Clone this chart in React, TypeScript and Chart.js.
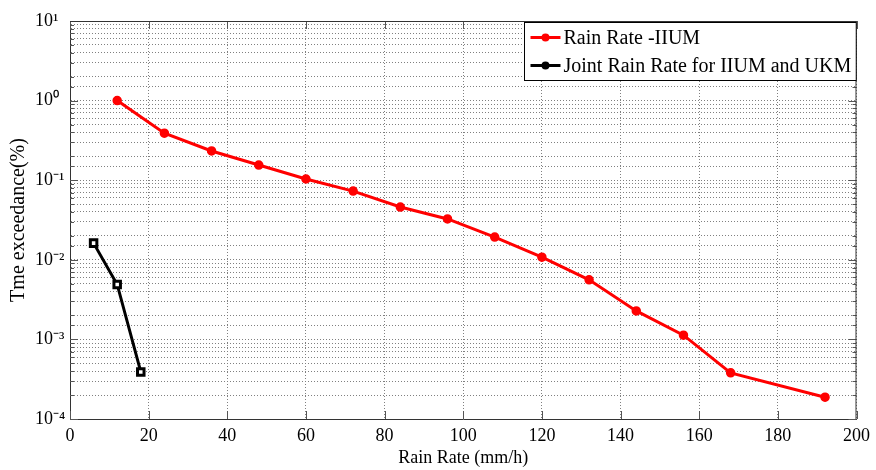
import React, { useEffect, useRef } from 'react';
import { Chart, registerables } from 'chart.js';
Chart.register(...registerables);

// ---- data ----
const iiumRate = [12, 24, 36, 48, 60, 72, 84, 96, 108, 120, 132, 144, 156, 168, 192];
const iiumExceed = [1.0, 0.39, 0.233, 0.155, 0.1035, 0.073, 0.046, 0.0326, 0.0193, 0.0108, 0.0056, 0.00228, 0.00113, 0.00038, 0.000188];
const jointRate = [6, 12, 18];
const jointExceed = [0.0162, 0.0049, 0.00039];
const seriesLabels = ['Rain Rate -IIUM', 'Joint Rain Rate for IIUM and UKM'];
const seriesColors = ['#ff0000', '#000000'];
const xTitle = 'Rain Rate (mm/h)';
const yTitle = 'Tme exceedance(%)';
const xMin = 0;
const xMax = 200;
const xStep = 20;
const yMinExp = -4;
const yMaxExp = 1;

const FONT = "'Liberation Serif', 'Times New Roman', serif";
const SUP: Record<string, string> = { '0': '⁰', '1': '¹', '2': '²', '3': '³', '4': '⁴', '5': '⁵', '-': '⁻' };
const sup = (n: number) => String(n).split('').map((c) => SUP[c] ?? c).join('');
const decadeOf = (v: number) => {
  const e = Math.round(Math.log10(v));
  return Math.abs(v - Math.pow(10, e)) / Math.pow(10, e) < 1e-6 ? e : null;
};

const framePlugin = {
  id: 'frameAndTicks',
  beforeDatasetsDraw(chart: any) {
    const { ctx, chartArea: a, scales } = chart;
    ctx.save();
    ctx.strokeStyle = '#555';
    ctx.lineWidth = 1;
    ctx.beginPath();
    scales.y.ticks.forEach((t: any) => {
      const py = Math.round(scales.y.getPixelForValue(t.value)) + 0.5;
      const len = decadeOf(t.value) !== null ? 8 : 4;
      ctx.moveTo(a.left, py); ctx.lineTo(a.left + len, py);
      ctx.moveTo(a.right, py); ctx.lineTo(a.right - len, py);
    });
    scales.x.ticks.forEach((t: any) => {
      const px = Math.round(scales.x.getPixelForValue(t.value)) + 0.5;
      ctx.moveTo(px, a.bottom); ctx.lineTo(px, a.bottom - 8);
      ctx.moveTo(px, a.top); ctx.lineTo(px, a.top + 8);
    });
    ctx.stroke();
    ctx.restore();
  },
  afterDraw(chart: any) {
    const { ctx, chartArea: a } = chart;
    ctx.save();
    ctx.strokeStyle = '#333';
    ctx.lineWidth = 1;
    ctx.beginPath();
    ctx.moveTo(a.left, a.top + 0.5); ctx.lineTo(a.right, a.top + 0.5);
    ctx.moveTo(a.right - 0.5, a.top); ctx.lineTo(a.right - 0.5, a.bottom);
    ctx.stroke();

    // legend
    ctx.font = `20px ${FONT}`;
    const textW = Math.max(...seriesLabels.map((s) => ctx.measureText(s).width));
    const boxW = 6 + 30 + 3 + textW + 5;
    const boxH = 58;
    const bx = Math.round(a.right - 1 - boxW) + 0.5;
    const by = Math.round(a.top + 1) + 0.5;
    ctx.fillStyle = '#fff';
    ctx.fillRect(bx, by, boxW, boxH);
    ctx.strokeStyle = '#000';
    ctx.strokeRect(bx, by, boxW, boxH);
    seriesLabels.forEach((lab, i) => {
      const cy = by + 15 + i * 28;
      const x0 = bx + 6;
      ctx.strokeStyle = seriesColors[i];
      ctx.lineWidth = 3;
      ctx.beginPath();
      ctx.moveTo(x0, cy); ctx.lineTo(x0 + 30, cy);
      ctx.stroke();
      ctx.fillStyle = seriesColors[i];
      ctx.beginPath();
      ctx.arc(x0 + 15, cy, 4, 0, Math.PI * 2);
      ctx.fill();
      ctx.fillStyle = '#000';
      ctx.textBaseline = 'middle';
      ctx.textAlign = 'left';
      ctx.fillText(lab, x0 + 33, cy + 1);
    });
    ctx.restore();
  },
};

export default function App() {
  const ref = useRef<HTMLCanvasElement>(null);
  useEffect(() => {
    if (!ref.current) return;
    const grid = {
      color: '#808080',
      lineWidth: 1,
      drawTicks: false,
    };
    const border = { display: true, color: '#333', width: 1, dash: [1, 2] };
    const chart = new Chart(ref.current, {
      type: 'line',
      data: {
        datasets: [
          {
            label: seriesLabels[0],
            data: iiumRate.map((x, i) => ({ x, y: iiumExceed[i] })),
            borderColor: seriesColors[0],
            backgroundColor: seriesColors[0],
            borderWidth: 3,
            pointRadius: 4,
            pointBorderWidth: 1.5,
            pointStyle: 'circle',
            tension: 0,
          },
          {
            label: seriesLabels[1],
            data: jointRate.map((x, i) => ({ x, y: jointExceed[i] })),
            borderColor: seriesColors[1],
            backgroundColor: '#ffffff',
            borderWidth: 3,
            pointRadius: 4.6,
            pointBorderWidth: 3,
            pointStyle: 'rect',
            tension: 0,
          },
        ],
      },
      options: {
        animation: false,
        responsive: false,
        maintainAspectRatio: false,
        layout: { padding: { left: 0, right: 16, top: 21, bottom: 0 } },
        plugins: { legend: { display: false }, tooltip: { enabled: false } },
        scales: {
          x: {
            type: 'linear',
            min: xMin,
            max: xMax,
            ticks: {
              stepSize: xStep,
              color: '#000',
              font: { family: FONT, size: 18 },
              padding: 6,
              maxRotation: 0,
            },
            grid,
            border,
            title: {
              display: true,
              text: xTitle,
              color: '#000',
              font: { family: FONT, size: 18 },
              padding: { top: 0, bottom: 1 },
            },
            afterFit: (s: any) => { s.height = 51; },
          },
          y: {
            type: 'logarithmic',
            min: Math.pow(10, yMinExp),
            max: Math.pow(10, yMaxExp),
            weight: 0,
            ticks: {
              autoSkip: false,
              color: '#000',
              font: { family: FONT, size: 18 },
              crossAlign: 'far',
              callback: (v: any) => {
                const e = decadeOf(Number(v));
                return e === null ? '' : '10' + sup(e);
              },
            },
            grid,
            border,
            afterFit: (s: any) => { s.width = 35; },
          },
          yTitle: {
            type: 'linear',
            position: 'left',
            weight: 1,
            display: true,
            ticks: { display: false },
            grid: { display: false, drawTicks: false },
            border: { display: false },
            title: {
              display: true,
              text: yTitle,
              color: '#000',
              font: { family: FONT, size: 20 },
              padding: { top: 7, bottom: 0 },
            },
            afterFit: (s: any) => { s.width = 35; },
          },
        },
      },
      plugins: [framePlugin],
    } as any);
    return () => chart.destroy();
  }, []);
  return (
    <div style={{ position: 'absolute', left: 0, top: 0, width: 876, height: 470, background: '#fff' }}>
      <canvas ref={ref} width={876} height={470} style={{ display: 'block' }} />
    </div>
  );
}
